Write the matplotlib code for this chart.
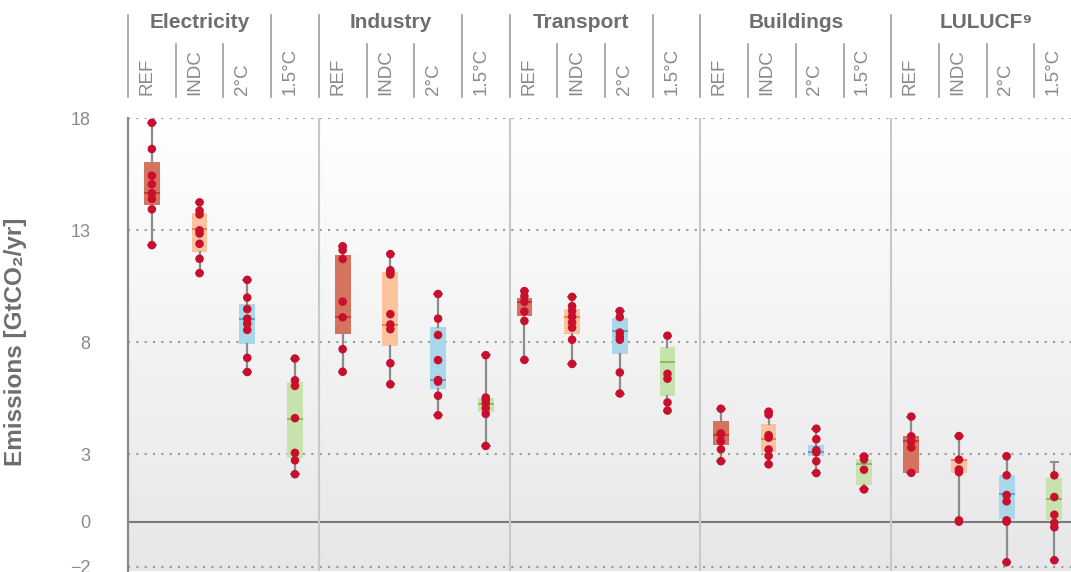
import numpy as np
import matplotlib
matplotlib.use("Agg")
import matplotlib.pyplot as plt
import matplotlib.transforms as mtransforms

plt.rcParams['font.family'] = ['Liberation Sans', 'DejaVu Sans']

# sectors and scenarios
sectors = ["Electricity", "Industry", "Transport", "Buildings", "LULUCF\u2079"]
scenarios = ["REF", "INDC", "2°C", "1.5°C"]

# box statistics, 20 columns (sector x scenario), GtCO2/yr
q1 = [14.15, 12.04, 7.94, 2.84,
      8.38, 7.84, 5.94, 4.88,
      9.16, 8.37, 7.50, 5.59,
      3.41, 3.09, 2.91, 1.64,
      2.19, 2.19, 0.11, 0.07]
med = [14.66, 13.07, 9.04, 4.59,
       9.12, 8.79, 6.31, 5.25,
       9.81, 9.13, 8.49, 7.13,
       3.88, 3.71, 3.13, 2.56,
       3.60, 2.77, 1.24, 1.03]
q3 = [16.06, 13.78, 9.72, 6.23,
      11.92, 11.16, 8.70, 5.53,
      9.99, 9.50, 9.10, 7.79,
      4.51, 4.34, 3.40, 2.81,
      3.81, 2.81, 2.07, 1.96]
whis_lo = [12.34, 11.09, 6.68, 2.12,
           6.69, 6.13, 4.75, 3.38,
           7.22, 7.04, 5.72, 4.96,
           2.70, 2.56, 2.17, 1.44,
           2.18, 0.0, -1.81, -1.72]
whis_hi = [17.8, 14.25, 10.79, 7.28,
           12.29, 11.94, 10.16, 7.43,
           10.29, 10.03, 9.40, 8.30,
           5.04, 4.91, 4.15, 2.91,
           4.69, 3.82, 2.92, 2.66]

# individual model results
points = [
    [17.8, 16.63, 15.44, 15.06, 14.66, 14.40, 13.94, 12.34],
    [14.25, 13.88, 13.71, 13.0, 12.86, 12.40, 11.73, 11.09],
    [10.79, 10.0, 9.49, 9.06, 8.84, 8.56, 7.31, 6.68],
    [7.28, 6.31, 6.06, 4.62, 3.07, 2.74, 2.12],
    [12.29, 12.12, 11.72, 9.82, 9.12, 7.70, 6.69],
    [11.94, 11.22, 11.14, 11.03, 9.26, 8.80, 8.59, 7.07, 6.13],
    [10.16, 9.06, 8.33, 7.21, 6.32, 6.25, 5.62, 4.75],
    [7.43, 5.54, 5.44, 5.29, 5.06, 4.81, 3.38],
    [10.29, 10.06, 9.81, 9.38, 8.96, 7.22],
    [10.03, 9.62, 9.40, 9.15, 8.90, 8.66, 8.12, 7.04],
    [9.40, 9.13, 8.44, 8.26, 8.12, 6.66, 5.72],
    [8.30, 6.60, 6.38, 5.32, 4.96],
    [5.04, 3.94, 3.90, 3.59, 3.23, 2.70],
    [4.91, 4.78, 3.86, 3.75, 3.22, 2.94, 2.56],
    [4.15, 3.68, 3.19, 3.10, 2.70, 2.17],
    [2.91, 2.78, 2.32, 1.44],
    [4.69, 3.81, 3.59, 3.31, 2.18],
    [3.82, 2.77, 2.33, 2.21, 0.06, 0.0],
    [2.92, 2.07, 1.19, 0.91, 0.06, 0.0, -1.81],
    [2.07, 1.10, 0.31, -0.05, -0.25, -1.72],
]

yticks = [18, 13, 8, 3, 0, -2]

box_colors = ["#d6735f", "#fcc39d", "#a8d8ea", "#c8e2ae"]
med_colors = ["#c23b33", "#f27c3c", "#5a9fcd", "#7cc04e"]
dot_color = "#c8102e"
grey_txt = "#8a8a8a"
grey_head = "#6e6e70"

# column positions (small offset per sector as in the original layout)
shift = [0.0, 0.0, -0.19, -0.07, -0.08]
pos = [s * 4 + k + 0.5 + shift[s] for s in range(5) for k in range(4)]

W, H = 1071, 572
fig = plt.figure(figsize=(W / 100, H / 100), dpi=100)
ax = fig.add_axes([128 / W, 1 - 571 / H, 1 - 128 / W, (571 - 118.3) / H])
ax.set_xlim(0, (W - 128) / 47.7)
ax.set_ylim(-2.2, 18)

# background gradient, white at the top
grad = np.linspace(0, 1, 256).reshape(-1, 1)
cmap = matplotlib.colors.LinearSegmentedColormap.from_list("bg", ["#ffffff", "#e7e7e9"])
ax.imshow(grad, extent=[0, 1, 0, 1], transform=ax.transAxes, aspect="auto",
          cmap=cmap, origin="upper", zorder=0)

# grid
for v in yticks:
    if v == 0:
        ax.axhline(0, color="#7a7a7a", lw=1.5, zorder=1)
    else:
        ax.axhline(v, color="#9a9a9a", lw=1.5, ls=(0, (1, 3)), zorder=1)
for g in range(1, 5):
    ax.axvline(g * 4, color="#c8c8cc", lw=1.5, zorder=1)

# boxes
stats = []
for i in range(20):
    stats.append(dict(med=med[i], q1=q1[i], q3=q3[i],
                      whislo=whis_lo[i], whishi=whis_hi[i]))
for k in range(4):
    idx = [s * 4 + k for s in range(5)]
    ax.bxp([stats[i] for i in idx], positions=[pos[i] for i in idx],
           widths=0.33, capwidths=0.16, showfliers=False, patch_artist=True,
           boxprops=dict(facecolor=box_colors[k], edgecolor="none"),
           medianprops=dict(color=med_colors[k], lw=1.3),
           whiskerprops=dict(color="#8c8c8c", lw=1.6),
           capprops=dict(color="#8c8c8c", lw=1.4),
           zorder=2, manage_ticks=False)

for i in range(20):
    ax.scatter([pos[i]] * len(points[i]), points[i], s=38, color=dot_color,
               edgecolors="none", zorder=4)

# axes styling
for sp in ["top", "right", "bottom"]:
    ax.spines[sp].set_visible(False)
ax.spines["left"].set_color("#8a8a8a")
ax.spines["left"].set_linewidth(1.6)
ax.set_xticks([])
ax.set_yticks(yticks)
ax.set_yticklabels([str(v).replace("-", "\u2212") for v in yticks])
ax.tick_params(axis="y", length=0, pad=27, labelsize=13, labelcolor=grey_txt)
ax.set_ylabel("Emissions [GtCO\u2082/yr]", fontsize=17.5, fontweight="bold",
              color=grey_head, labelpad=10)
ax.yaxis.set_label_coords(-(128 - 27) / (W - 128), (571 - 342) / (571 - 118.3))

# header with sector and scenario labels
trans = mtransforms.blended_transform_factory(ax.transData, fig.transFigure)
y_tall, y_short, y_bot = 1 - 15 / H, 1 - 44 / H, 1 - 97 / H
tall = [0, 3, 4, 7, 8, 11, 12, 16]
for b in range(20):
    top = y_tall if b in tall else y_short
    ax.plot([b, b], [y_bot, top], color="#9c9c9c", lw=1.2, transform=trans,
            clip_on=False)
for s, name in enumerate(sectors):
    span = 3 if s < 3 else 4
    ax.text(s * 4 + span / 2, 1 - 23 / H, name, transform=trans, ha="center",
            va="center", fontsize=15, fontweight="bold", color=grey_head,
            family=["Liberation Sans", "DejaVu Sans"], clip_on=False)
    for k, sc in enumerate(scenarios):
        ax.text(s * 4 + k + 0.4, 1 - 95 / H, sc, transform=trans, rotation=90,
                ha="center", va="bottom", fontsize=13.5, color=grey_txt,
                clip_on=False)

fig.savefig("out.png", dpi=100)
